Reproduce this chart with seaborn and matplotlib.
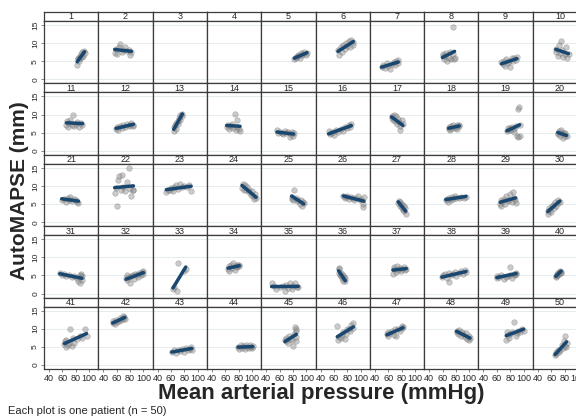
import matplotlib
matplotlib.use("Agg")
import matplotlib.pyplot as plt
import seaborn as sns
import pandas as pd

#--------------------------------------- DATA ---------------------------------------#
# MAP (mmHg) and AutoMAPSE (mm) per patient
map_01 = [82, 83, 84, 85, 86, 87, 88, 89, 90, 91, 92, 93]
ams_01 = [4.0, 5.5, 6.0, 5.0, 6.5, 5.8, 7.0, 6.2, 7.5, 6.5, 7.8, 7.2]
map_02 = [57, 59, 61, 63, 65, 68, 70, 72, 75, 78, 80, 82]
ams_02 = [7.2, 8.5, 7.0, 8.8, 9.7, 7.5, 8.2, 9.0, 7.8, 8.0, 6.8, 7.5]
map_03 = []
ams_03 = []
map_04 = []
ams_04 = []
map_05 = [82, 84, 85, 87, 88, 90, 92, 94, 95, 97, 99, 101]
ams_05 = [5.5, 6.2, 5.8, 6.5, 6.8, 6.0, 7.2, 6.6, 7.0, 7.5, 6.8, 7.2]
map_06 = [66, 68, 70, 72, 74, 76, 78, 80, 82, 84, 86, 88, 89]
ams_06 = [8.0, 6.8, 9.0, 7.5, 9.5, 8.5, 10.0, 9.2, 10.5, 9.0, 11.0, 10.2, 9.5]
map_07 = [50, 52, 55, 58, 60, 63, 65, 68, 70, 72, 74, 75]
ams_07 = [3.5, 4.0, 3.2, 4.5, 3.8, 2.8, 4.2, 4.8, 3.9, 5.2, 4.5, 5.3]
map_08 = [60, 61, 62, 63, 65, 67, 69, 71, 73, 75, 76, 77, 78]
ams_08 = [6.5, 7.0, 5.5, 6.5, 7.2, 5.0, 6.0, 7.5, 5.5, 7.0, 14.4, 5.5, 6.0]
map_09 = [67, 69, 70, 72, 74, 76, 78, 80, 82, 84, 86, 88, 90]
ams_09 = [4.8, 4.2, 5.0, 3.8, 5.5, 4.6, 5.2, 3.5, 5.8, 5.0, 6.0, 5.4, 6.2]
map_10 = [67, 68, 70, 72, 74, 75, 76, 78, 80, 82, 84, 86]
ams_10 = [7.5, 8.5, 6.5, 9.5, 7.2, 10.5, 8.0, 6.2, 7.0, 9.0, 5.8, 7.0]
map_11 = [66, 67, 68, 70, 72, 74, 76, 78, 80, 82, 85, 88, 90]
ams_11 = [7.0, 8.2, 6.5, 7.8, 8.5, 7.2, 10.0, 6.8, 7.5, 8.0, 6.6, 7.8, 7.2]
map_12 = [59, 60, 62, 65, 68, 70, 72, 75, 78, 80, 82, 84, 85]
ams_12 = [6.0, 6.5, 5.8, 6.8, 6.2, 7.0, 6.5, 7.5, 6.8, 7.2, 7.8, 7.0, 6.8]
map_13 = [64, 65, 66, 67, 68, 70, 71, 72, 73, 74, 76, 77]
ams_13 = [5.5, 6.5, 7.0, 6.0, 7.8, 8.2, 7.5, 9.0, 8.5, 9.8, 10.2, 9.5]
map_14 = [62, 64, 66, 68, 70, 72, 74, 76, 77, 78, 80, 82]
ams_14 = [6.5, 7.0, 6.0, 6.8, 7.5, 6.2, 10.2, 5.8, 8.5, 6.5, 6.0, 5.5]
map_15 = [56, 58, 60, 63, 65, 68, 70, 72, 75, 77, 79, 80, 81]
ams_15 = [5.6, 4.8, 5.2, 5.0, 4.5, 5.4, 4.8, 5.2, 3.8, 4.6, 5.3, 4.2, 5.0]
map_16 = [52, 54, 56, 58, 60, 63, 66, 70, 73, 76, 79, 82, 84, 86]
ams_16 = [5.5, 4.5, 5.0, 5.3, 4.3, 5.8, 5.2, 6.0, 5.5, 6.5, 6.2, 7.0, 6.6, 7.5]
map_17 = [65, 66, 67, 68, 70, 72, 73, 74, 76, 77, 78, 80, 82]
ams_17 = [9.0, 9.6, 8.5, 9.8, 8.2, 9.5, 7.5, 8.8, 8.0, 5.6, 6.8, 8.5, 7.4]
map_18 = [69, 70, 71, 72, 74, 76, 78, 80, 81, 82, 84, 85]
ams_18 = [6.0, 6.5, 5.8, 6.8, 6.2, 7.0, 6.4, 6.6, 7.2, 6.0, 7.0, 6.8]
map_19 = [75, 76, 78, 80, 81, 83, 85, 86, 88, 90, 92, 92, 93, 94, 94]
ams_19 = [5.4, 6.2, 5.6, 6.4, 5.8, 6.6, 6.0, 5.2, 6.8, 4.2, 11.6, 3.8, 12.0, 4.0, 7.0]
map_20 = [70, 71, 72, 74, 75, 76, 78, 79, 80, 81, 83]
ams_20 = [5.0, 4.5, 5.5, 4.0, 5.8, 4.8, 3.5, 5.0, 4.2, 4.8, 4.0]
map_21 = [59, 62, 65, 68, 70, 72, 75, 78, 80, 82, 84]
ams_21 = [6.2, 6.5, 5.5, 6.8, 6.0, 7.0, 5.8, 6.5, 6.2, 5.5, 5.2]
map_22 = [57, 59, 61, 62, 64, 66, 68, 70, 72, 75, 78, 80, 82, 84, 85]
ams_22 = [8.0, 9.5, 4.4, 11.5, 12.8, 9.0, 13.0, 9.8, 8.5, 11.0, 14.9, 9.2, 7.2, 9.0, 8.8]
map_23 = [53, 55, 58, 60, 63, 65, 68, 70, 73, 76, 80, 84, 87, 90]
ams_23 = [8.2, 8.8, 9.0, 9.5, 8.5, 9.8, 10.2, 9.2, 10.5, 9.6, 10.0, 9.8, 10.2, 8.5]
map_24 = [85, 86, 88, 90, 91, 93, 95, 96, 98, 100, 101, 103, 104, 106]
ams_24 = [9.5, 10.5, 9.0, 10.2, 8.8, 9.6, 8.2, 9.0, 7.5, 8.5, 7.2, 6.5, 7.8, 6.8]
map_25 = [78, 79, 80, 82, 84, 86, 88, 90, 92, 94, 95, 96]
ams_25 = [6.5, 7.0, 6.2, 8.9, 6.8, 5.8, 6.2, 5.0, 6.0, 4.5, 5.5, 5.2]
map_26 = [74, 76, 78, 80, 83, 86, 88, 90, 93, 96, 99, 101, 103, 104, 105]
ams_26 = [7.2, 6.8, 7.0, 7.2, 6.5, 7.0, 6.8, 6.2, 6.6, 7.2, 6.0, 6.5, 5.0, 4.2, 7.0]
map_27 = [75, 76, 77, 78, 79, 80, 81, 82, 83, 84, 85, 86]
ams_27 = [5.2, 5.8, 4.5, 5.5, 4.8, 3.8, 5.0, 3.5, 4.6, 3.2, 3.8, 2.2]
map_28 = [65, 66, 68, 70, 72, 74, 76, 78, 80, 84, 88, 92, 95]
ams_28 = [6.0, 6.5, 5.5, 6.8, 6.2, 7.0, 6.5, 7.2, 6.6, 6.8, 7.0, 6.8, 7.0]
map_29 = [65, 66, 67, 68, 70, 72, 74, 76, 78, 80, 82, 84, 86, 87, 88]
ams_29 = [5.0, 6.2, 4.5, 5.5, 6.5, 5.0, 7.2, 5.8, 6.0, 7.8, 5.5, 8.2, 6.8, 6.2, 5.2]
map_30 = [55, 56, 57, 58, 60, 61, 63, 64, 66, 68, 70, 71, 73]
ams_30 = [3.0, 2.4, 4.0, 3.5, 2.8, 4.5, 4.8, 3.8, 5.5, 4.4, 6.0, 5.2, 5.6]
map_31 = [56, 59, 62, 66, 70, 74, 78, 82, 84, 86, 87, 88, 88, 89, 89]
ams_31 = [5.8, 5.2, 5.5, 4.8, 5.0, 4.6, 4.8, 4.2, 3.5, 5.2, 3.0, 4.5, 5.5, 3.8, 4.8]
map_32 = [74, 75, 76, 78, 80, 82, 84, 86, 88, 90, 92, 94, 96, 98, 99, 100]
ams_32 = [4.2, 3.8, 5.0, 4.5, 2.8, 4.8, 5.2, 4.0, 5.5, 5.0, 4.6, 5.8, 5.2, 6.0, 5.5, 6.2]
map_33 = [63, 65, 69, 71, 80, 82]
ams_33 = [1.2, 1.8, 0.8, 8.4, 6.2, 6.8]
map_34 = [64, 65, 66, 68, 70, 72, 74, 76, 77, 78, 80, 81]
ams_34 = [6.8, 7.5, 6.2, 7.8, 7.0, 8.4, 6.5, 7.6, 8.0, 7.2, 7.8, 7.5]
map_35 = [48, 51, 55, 60, 65, 68, 70, 72, 75, 78, 80, 83, 86, 88]
ams_35 = [2.8, 2.0, 1.2, 1.8, 2.2, 0.8, 2.5, 1.5, 2.8, 1.2, 2.0, 3.0, 1.8, 1.9]
map_36 = [67, 67.5, 68, 69, 70, 71, 72, 73, 74, 75, 76, 77]
ams_36 = [7.0, 5.8, 6.8, 5.2, 4.8, 5.6, 4.2, 5.0, 3.5, 4.6, 3.6, 4.2]
map_37 = [67, 68, 69, 71, 73, 75, 77, 79, 81, 83, 85, 87]
ams_37 = [5.5, 6.8, 7.2, 6.0, 7.5, 6.5, 7.0, 6.2, 6.8, 7.2, 6.5, 6.9]
map_38 = [59, 60, 63, 66, 69, 70, 72, 75, 78, 80, 84, 88, 91, 93, 95]
ams_38 = [4.5, 5.0, 5.5, 4.2, 5.8, 3.1, 5.0, 5.5, 6.0, 4.8, 5.6, 6.2, 5.5, 6.5, 6.0]
map_39 = [60, 61, 64, 67, 70, 73, 76, 79, 80, 82, 85, 87, 88, 89]
ams_39 = [4.2, 4.8, 4.5, 5.0, 4.0, 4.6, 4.8, 7.4, 5.2, 4.2, 5.5, 5.0, 5.8, 5.4]
map_40 = [67, 68, 68.5, 69, 70, 71, 72, 73, 74, 74.5, 75]
ams_40 = [4.5, 4.8, 5.0, 5.5, 5.2, 5.6, 6.0, 5.8, 6.3, 6.0, 5.8]
map_41 = [63, 64, 65, 66, 68, 70, 72, 74, 76, 78, 82, 86, 90, 93, 96]
ams_41 = [5.8, 6.5, 5.0, 7.0, 5.5, 6.2, 9.8, 5.2, 7.5, 6.0, 7.2, 8.0, 7.5, 10.0, 8.0]
map_42 = [54, 55, 57, 59, 61, 63, 65, 67, 69, 70, 71, 72]
ams_42 = [11.5, 12.0, 11.2, 12.5, 11.8, 12.2, 13.0, 12.5, 13.5, 12.8, 13.2, 12.6]
map_43 = [61, 64, 67, 70, 73, 76, 79, 82, 85, 88, 90, 91]
ams_43 = [3.5, 4.0, 3.2, 4.2, 3.8, 4.5, 3.6, 4.8, 4.0, 4.5, 5.0, 4.2]
map_44 = [79, 80, 83, 85, 87, 89, 91, 93, 95, 97, 99, 100, 101]
ams_44 = [5.0, 4.5, 5.5, 4.8, 5.2, 4.4, 5.6, 5.0, 4.6, 5.4, 5.0, 4.8, 5.3]
map_45 = [68, 69, 70, 72, 74, 76, 78, 80, 82, 83, 84, 85, 85, 85]
ams_45 = [7.0, 6.5, 7.5, 6.0, 8.0, 7.2, 6.8, 5.2, 8.5, 10.5, 6.5, 9.5, 9.8, 7.8]
map_46 = [65, 66, 67, 70, 72, 74, 76, 78, 80, 82, 84, 86, 88, 89]
ams_46 = [10.8, 7.0, 7.8, 7.5, 8.2, 9.0, 7.2, 8.5, 9.8, 10.0, 9.5, 11.0, 11.5, 10.2]
map_47 = [58, 59, 60, 63, 65, 68, 70, 72, 75, 78, 80, 81, 82]
ams_47 = [8.5, 8.0, 9.0, 8.8, 9.5, 8.2, 9.8, 8.0, 10.0, 9.5, 10.8, 10.2, 10.5]
map_48 = [81, 82, 83, 85, 87, 89, 91, 93, 95, 97, 99, 100, 101]
ams_48 = [9.5, 9.0, 8.5, 9.6, 8.0, 9.2, 8.5, 7.8, 8.8, 7.2, 8.0, 7.0, 7.5]
map_49 = [74, 75, 76, 78, 80, 83, 86, 88, 90, 92, 95, 98, 100]
ams_49 = [7.0, 9.0, 8.2, 7.5, 8.5, 9.0, 11.8, 8.0, 8.8, 9.5, 9.0, 10.0, 9.5]
map_50 = [66, 67, 68, 70, 72, 74, 76, 78, 79, 80, 81, 82, 83]
ams_50 = [2.8, 3.5, 3.0, 4.2, 3.5, 4.0, 5.5, 4.8, 6.5, 5.2, 7.9, 5.0, 6.0]

y_ticks = [0, 5, 10, 15]
x_ticks = [40, 60, 80, 100]

#--------------------------------------- BUILD TABLE ---------------------------------------#
rows = []
for p in range(1, 51):
    xs = globals()["map_%02d" % p]
    ys = globals()["ams_%02d" % p]
    for xv, yv in zip(xs, ys):
        rows.append({"patient": p, "map": xv, "amapse": yv})
df = pd.DataFrame(rows)

#--------------------------------------- STYLE ---------------------------------------#
sns.set_style("white")
plt.rcParams["font.family"] = ["Liberation Sans", "DejaVu Sans"]

W, H = 576, 419
FRAME = "#3c3c3c"
GRID = "#e4ecee"
LINE_CLR = "#1a476f"

fig = plt.figure(figsize=(W / 100, H / 100), dpi=100)
gs = fig.add_gridspec(10, 10, height_ratios=[9, 62.4] * 5,
                      left=44 / W, right=587 / W, top=1 - 12 / H, bottom=1 - 369 / H,
                      hspace=0, wspace=0)

#--------------------------------------- PLOTTING ---------------------------------------#
for p in range(1, 51):
    r, c = (p - 1) // 10, (p - 1) % 10

    # strip with the patient number
    sax = fig.add_subplot(gs[2 * r, c])
    sax.set_xticks([])
    sax.set_yticks([])
    sax.set_facecolor("white")
    for s in sax.spines.values():
        s.set_color(FRAME)
        s.set_linewidth(0.9)
    sax.text(0.5, 0.45, str(p), ha="center", va="center", fontsize=6.5, transform=sax.transAxes)

    ax = fig.add_subplot(gs[2 * r + 1, c])
    sub = df[df["patient"] == p]
    if len(sub) > 0:
        sns.regplot(data=sub, x="map", y="amapse", ax=ax, ci=None,
                    scatter_kws=dict(s=16, color="#8a8a8a", alpha=0.45,
                                     edgecolor="#6a6a6a", linewidths=0.4, zorder=2),
                    line_kws=dict(color=LINE_CLR, lw=2.5, zorder=3))
    ax.set_xlim(32.5, 113.6)
    ax.set_ylim(-1.1, 16.1)
    ax.set_xticks(x_ticks)
    ax.set_yticks(y_ticks)
    ax.set_xlabel("")
    ax.set_ylabel("")
    ax.grid(axis="y", color=GRID, linewidth=0.7, zorder=0)
    ax.set_axisbelow(True)
    for s in ax.spines.values():
        s.set_color(FRAME)
        s.set_linewidth(0.9)

    ax.tick_params(axis="both", length=2, width=0.5, color="#555555", pad=1.5, labelsize=6)
    if c == 0:
        ax.set_yticklabels([str(v) for v in y_ticks], rotation=90, va="center")
        ax.tick_params(axis="y", left=True)
    else:
        ax.tick_params(axis="y", left=False, labelleft=False)
    if r == 4:
        ax.set_xticklabels([str(v) for v in x_ticks])
        ax.tick_params(axis="x", bottom=True, labelsize=6.5)
    else:
        ax.tick_params(axis="x", bottom=False, labelbottom=False)

fig.text(20 / W, 1 - 191 / H, "AutoMAPSE (mm)", rotation=90, ha="center", va="center",
         fontsize=15, fontweight="bold")
fig.text(321 / W, 1 - 393 / H, "Mean arterial pressure (mmHg)", ha="center", va="center",
         fontsize=16, fontweight="bold")
fig.text(8 / W, 1 - 411 / H, "Each plot is one patient (n = 50)", ha="left", va="center",
         fontsize=8)

fig.savefig("out.png", dpi=100)
